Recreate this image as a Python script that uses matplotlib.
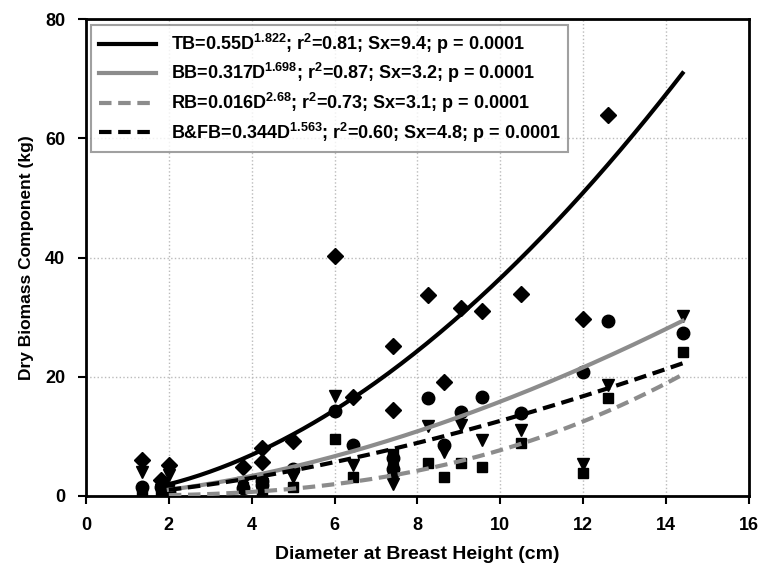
import matplotlib
matplotlib.use("Agg")
import matplotlib.pyplot as plt
import numpy as np

plt.rcParams['font.family'] = ['Liberation Sans', 'DejaVu Sans']
plt.rcParams['font.weight'] = 'bold'
plt.rcParams['mathtext.fontset'] = 'custom'
plt.rcParams['mathtext.rm'] = 'Liberation Sans:bold'
plt.rcParams['mathtext.it'] = 'Liberation Sans:bold'
plt.rcParams['mathtext.bf'] = 'Liberation Sans:bold'
plt.rcParams['mathtext.default'] = 'rm'

# diameter of each sampled tree (cm)
dbh = [1.35, 1.8, 2.0, 3.8, 4.25, 4.25, 5.0, 6.0, 6.45, 7.4, 7.4,
       8.25, 8.65, 9.05, 9.55, 10.5, 12.0, 12.6, 14.4]
# dry biomass per component (kg), nan = off the chart
tb = [6.0, 2.7, 5.2, 4.9, 8.0, 5.7, 9.2, 40.3, 16.6, 25.1, 14.4,
      33.7, 19.1, 31.5, 31.0, 33.8, 29.6, 64.0, np.nan]
bb = [1.5, 1.5, 0.6, 1.3, 2.5, 1.8, 4.5, 14.2, 8.5, 6.4, 4.5,
      16.4, 8.5, 14.1, 16.6, 13.9, 20.8, 29.3, 27.3]
bfb = [4.0, 0.9, 3.5, 2.2, 2.7, 2.0, 3.2, 16.7, 5.2, 2.7, 2.0,
       11.7, 7.4, 11.9, 9.4, 11.1, 5.4, 18.6, 30.2]
rb = [0.5, 0.3, 1.5, 1.4, 1.5, 1.0, 1.5, 9.5, 3.2, 7.0, 4.7,
      5.5, 3.2, 5.5, 4.9, 8.9, 3.8, 16.4, 24.1]

# fitted allometric equations  B = a * D^b
fit_a = [0.55, 0.317, 0.016, 0.344]
fit_b = [1.822, 1.698, 2.68, 1.563]
fit_labels = [
    r'TB=0.55D$^{1.822}$; r$^{2}$=0.81; Sx=9.4; p = 0.0001',
    r'BB=0.317D$^{1.698}$; r$^{2}$=0.87; Sx=3.2; p = 0.0001',
    r'RB=0.016D$^{2.68}$; r$^{2}$=0.73; Sx=3.1; p = 0.0001',
    r'B&FB=0.344D$^{1.563}$; r$^{2}$=0.60; Sx=4.8; p = 0.0001',
]
fit_range = [2.0, 14.4]

fig = plt.figure(figsize=(7.61, 5.66), dpi=100)
ax = fig.add_axes([0.113, 0.124, 0.871, 0.842])

ms = 9
ax.plot(dbh, tb, 'D', color='black', ms=ms - 0.5, zorder=3)
ax.plot(dbh, bb, 'o', color='black', ms=ms, zorder=3)
ax.plot(dbh, bfb, 'v', color='black', ms=ms, zorder=3)
ax.plot(dbh, rb, 's', color='black', ms=ms - 1.5, zorder=3)

d = np.linspace(fit_range[0], fit_range[1], 200)
styles = [('black', '-'), ('#8c8c8c', '-'), ('#8c8c8c', '--'), ('black', '--')]
for a, b, lab, (c, ls) in zip(fit_a, fit_b, fit_labels, styles):
    line, = ax.plot(d, a * d ** b, color=c, linestyle=ls, lw=3, label=lab, zorder=4)
    if ls == '--':
        line.set_dashes((3, 1.6))

ax.set_xlim(0, 16)
ax.set_ylim(0, 80)
ax.set_xticks(range(0, 17, 2))
ax.set_yticks(range(0, 81, 20))
ax.grid(True, linestyle=':', color='#bbbbbb', lw=1)
ax.set_axisbelow(True)
for s in ax.spines.values():
    s.set_linewidth(2)
ax.tick_params(direction='out', length=6, width=1.5, labelsize=13, pad=9)
for t in ax.get_xticklabels() + ax.get_yticklabels():
    t.set_fontweight('bold')

ax.set_xlabel('Diameter at Breast Height (cm)', fontsize=14, fontweight='bold', labelpad=9)
ax.set_ylabel('Dry Biomass Component (kg)', fontsize=12.5, fontweight='bold', labelpad=8)

leg = ax.legend(loc='upper left', handlelength=3.2, frameon=True,
                fancybox=False, borderaxespad=0.3, labelspacing=0.3,
                prop={'weight': 'bold', 'size': 13})
leg.get_frame().set_edgecolor('#888888')
leg.get_frame().set_linewidth(1.5)

fig.savefig('out.png', dpi=100)
